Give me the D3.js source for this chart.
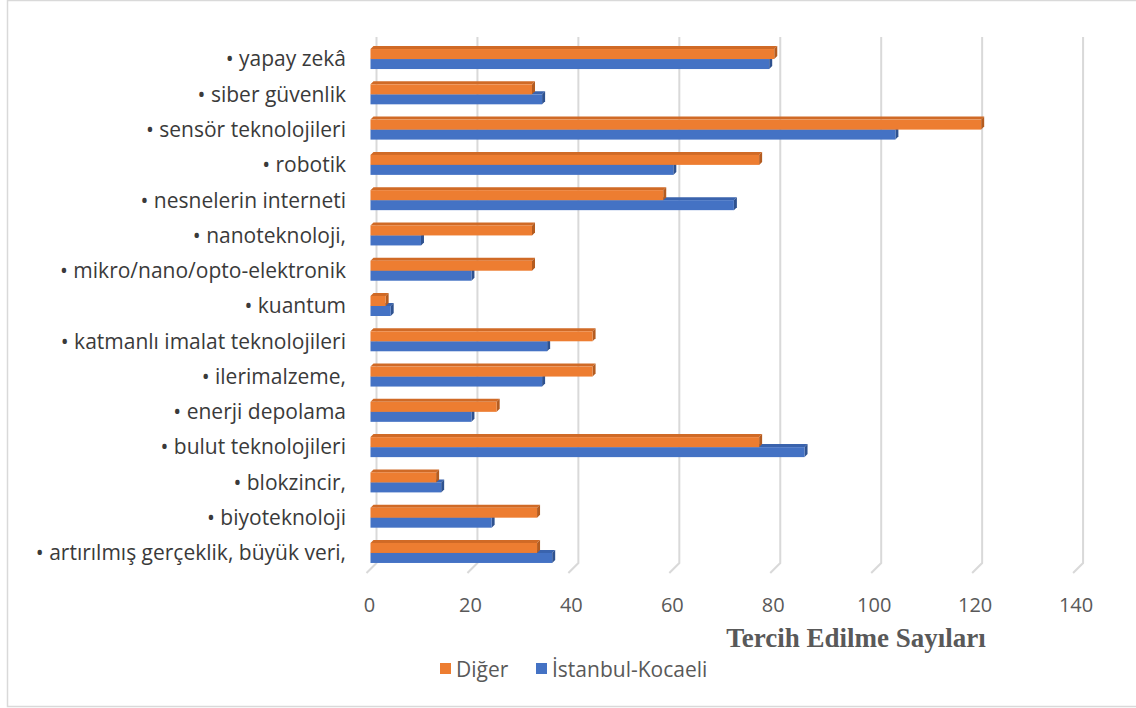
<!DOCTYPE html>
<html>
<head>
<meta charset="utf-8">
<script src="https://cdn.jsdelivr.net/npm/d3@7"></script>
<style>
  body { margin: 0; background: #fff; }
  svg { display: block; }
</style>
</head>
<body>
<svg id="chart"></svg>
<script>
// kategoriler (yukaridan asagiya)
const categories = [
  "• yapay zekâ",
  "• siber güvenlik",
  "• sensör teknolojileri",
  "• robotik",
  "• nesnelerin interneti",
  "• nanoteknoloji,",
  "• mikro/nano/opto-elektronik",
  "• kuantum",
  "• katmanlı imalat teknolojileri",
  "• ilerimalzeme,",
  "• enerji depolama",
  "• bulut teknolojileri",
  "• blokzincir,",
  "• biyoteknoloji",
  "• artırılmış gerçeklik, büyük veri,"
];
const diger = [80, 32, 121, 77, 58, 32, 32, 3, 44, 44, 25, 77, 13, 33, 33];
const istanbulKocaeli = [79, 34, 104, 60, 72, 10, 20, 4, 35, 34, 20, 86, 14, 24, 36];
const ticks = [0, 20, 40, 60, 80, 100, 120, 140];
const seriesNames = ["Diğer", "İstanbul-Kocaeli"];

const W = 1136, H = 708;
const svg = d3.select("#chart").attr("width", W).attr("height", H);

// cerceve
svg.append("rect")
  .attr("x", 7.5).attr("y", 0.5)
  .attr("width", 1140).attr("height", 706)
  .attr("fill", "none").attr("stroke", "#d9d9d9").attr("stroke-width", 1.5);

const x = d3.scaleLinear().domain([0, 140]).range([370.5, 370.5 + 140 * 5.047]);
const y = d3.scaleBand().domain(categories).range([41.4, 570.6]).padding(0);

const backOff = 6;   // arka duvar kaymasi
const gridTop = 37, gridBottom = 563;

// izgara cizgileri (duvar + zemin)
const grid = svg.append("g");
grid.selectAll("path")
  .data(ticks)
  .join("path")
  .attr("d", d => {
    const gx = x(d) + backOff;
    return `M${gx},${gridTop}L${gx},${gridBottom}L${gx - 10},${gridBottom + 10}`;
  })
  .attr("fill", "none")
  .attr("stroke", "#d9d9d9")
  .attr("stroke-width", 2);

// tick etiketleri
svg.append("g").selectAll("text")
  .data(ticks)
  .join("text")
  .attr("x", d => x(d) - 1)
  .attr("y", 612)
  .attr("text-anchor", "middle")
  .style("font", "20px 'Open Sans', sans-serif")
  .attr("fill", "#595959")
  .text(d => d);

// kategori etiketleri
svg.append("g").selectAll("text")
  .data(categories)
  .join("text")
  .attr("x", 346)
  .attr("y", d => y(d) + y.bandwidth() / 2)
  .attr("dy", "0.35em")
  .attr("text-anchor", "end")
  .style("font", "21px 'Open Sans', sans-serif")
  .attr("fill", "#3a3a3a")
  .text(d => d);

// 3B cubuk
const depth = 3, barH = 10;
function bar3d(g, data, offset, front, side, top) {
  const b = g.append("g").selectAll("g")
    .data(data.map((v, i) => ({ v, c: categories[i] })))
    .join("g");
  const geo = d => {
    const x0 = x(0), x1 = x(d.v);
    const y0 = y(d.c) + y.bandwidth() / 2 + offset;
    return { x0, x1, y0 };
  };
  b.append("path")
    .attr("d", d => {
      const { x0, x1, y0 } = geo(d);
      return `M${x0},${y0}L${x0 + depth},${y0 - depth}L${x1 + depth},${y0 - depth}L${x1},${y0}Z`;
    })
    .attr("fill", top);
  b.append("path")
    .attr("d", d => {
      const { x1, y0 } = geo(d);
      return `M${x1},${y0}L${x1 + depth},${y0 - depth}L${x1 + depth},${y0 + barH - depth}L${x1},${y0 + barH}Z`;
    })
    .attr("fill", side);
  b.append("rect")
    .attr("x", d => geo(d).x0)
    .attr("y", d => geo(d).y0)
    .attr("width", d => geo(d).x1 - geo(d).x0)
    .attr("height", barH)
    .attr("fill", front);
}

const bars = svg.append("g");
bar3d(bars, istanbulKocaeli, 0, "#4472c4", "#2f528f", "#3a63ad");
bar3d(bars, diger, -barH, "#ed7d31", "#b45c20", "#d06a26");

// eksen basligi
svg.append("text")
  .attr("x", 856)
  .attr("y", 647)
  .attr("text-anchor", "middle")
  .style("font", "bold 27px 'Liberation Serif', 'Times New Roman', serif")
  .attr("fill", "#595959")
  .text("Tercih Edilme Sayıları");

// lejant
const legend = svg.append("g");
const legX = [440, 536];
const colors = ["#ed7d31", "#4472c4"];
legend.selectAll("rect")
  .data(seriesNames)
  .join("rect")
  .attr("x", (d, i) => legX[i])
  .attr("y", 663)
  .attr("width", 11)
  .attr("height", 11)
  .attr("fill", (d, i) => colors[i]);
legend.selectAll("text")
  .data(seriesNames)
  .join("text")
  .attr("x", (d, i) => legX[i] + 16)
  .attr("y", 677)
  .style("font", "21px 'Open Sans', sans-serif")
  .attr("fill", "#595959")
  .text(d => d);
</script>
</body>
</html>
